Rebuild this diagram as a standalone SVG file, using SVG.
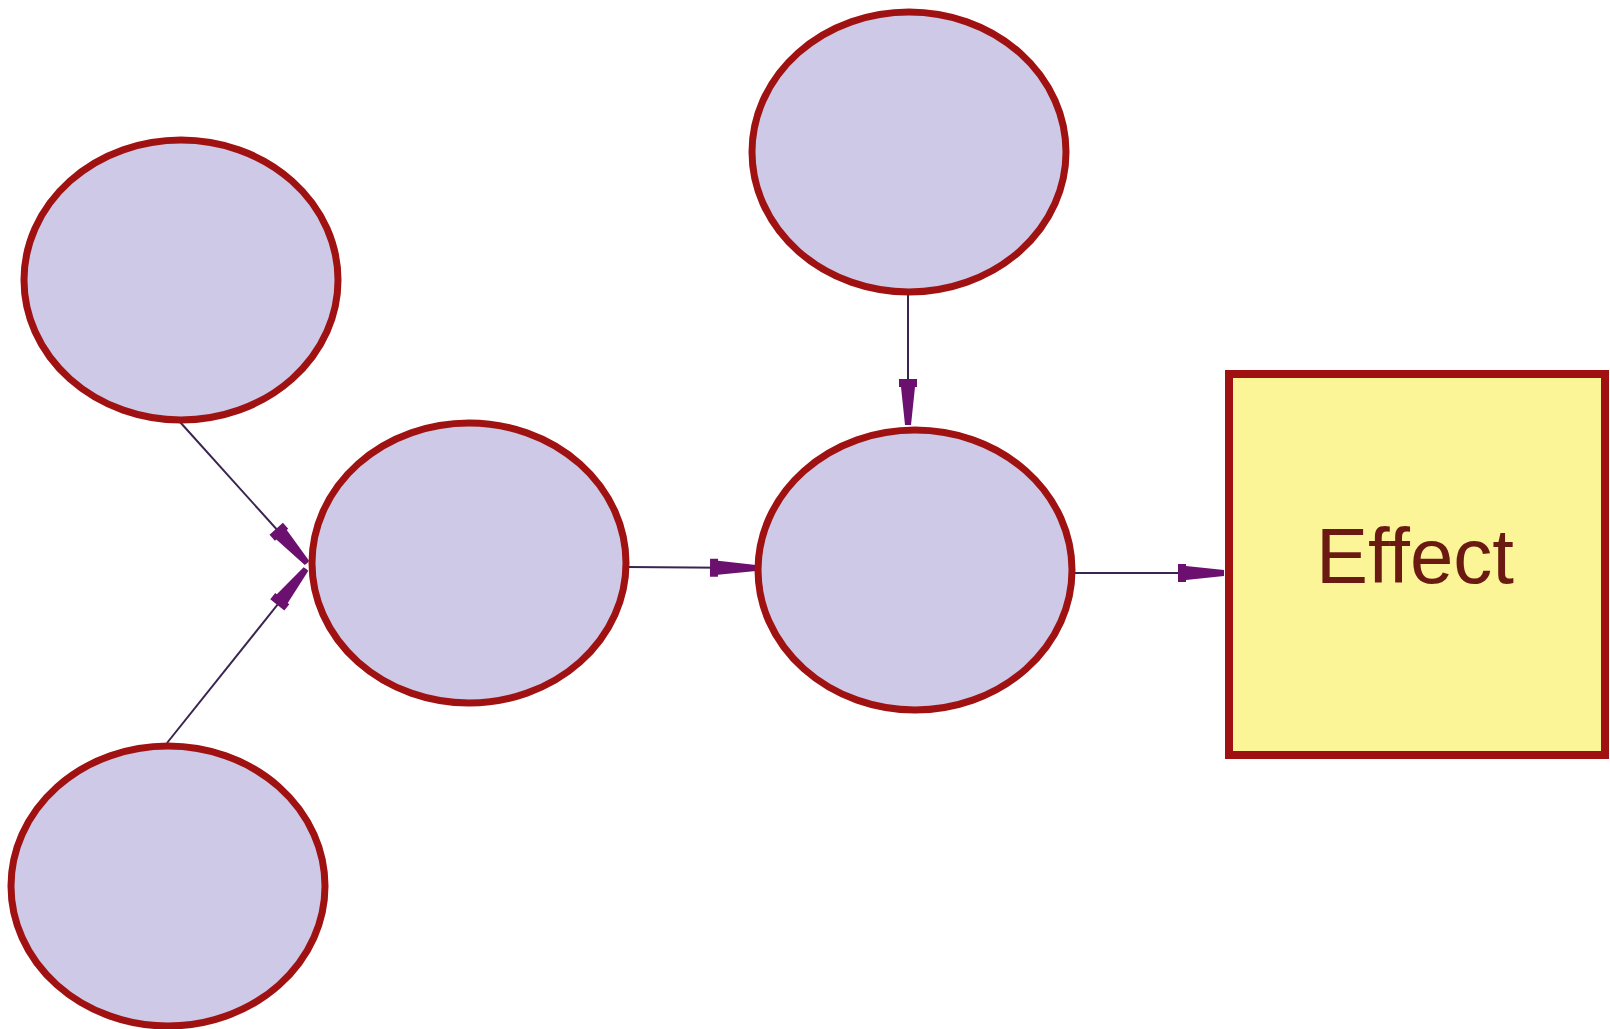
<svg xmlns="http://www.w3.org/2000/svg" width="1610" height="1029" viewBox="0 0 1610 1029">
<style>
.node ellipse{fill:#cdc9e6;stroke:#a01212;stroke-width:7}
.box{fill:#fbf597;stroke:#a01212;stroke-width:8}
.edge{stroke:#3a2450;stroke-width:2;fill:none;marker-end:url(#arr)}
.lbl{font-family:"Liberation Sans",Arial,sans-serif;font-size:78px;fill:#6b1a12;text-anchor:middle}
</style>
<defs>
<marker id="arr" markerUnits="userSpaceOnUse" markerWidth="50" markerHeight="24" viewBox="-46 -12 48 24" refX="0" refY="0" orient="auto" overflow="visible">
<path d="M-46,-9 L-38,-9 L-38,-7 L0,-3 L0,3 L-38,7 L-38,9 L-46,9 Z" fill="#6c1070"/>
</marker>
</defs>
<rect width="1610" height="1029" fill="#ffffff"/>
<g id="connectors">
<line class="edge" x1="180" y1="422" x2="307" y2="563"/>
<line class="edge" x1="167" y1="743" x2="306" y2="569"/>
<line class="edge" x1="627" y1="567" x2="756" y2="568"/>
<line class="edge" x1="908" y1="295" x2="908" y2="425"/>
<line class="edge" x1="1074" y1="573" x2="1224" y2="573"/>
</g>
<g id="n1" class="node"><ellipse cx="181" cy="280" rx="157" ry="140"/></g>
<g id="n2" class="node"><ellipse cx="168" cy="886" rx="157" ry="140"/></g>
<g id="n3" class="node"><ellipse cx="469" cy="563" rx="157" ry="140"/></g>
<g id="n4" class="node"><ellipse cx="909" cy="152" rx="157" ry="140"/></g>
<g id="n5" class="node"><ellipse cx="915" cy="570" rx="157" ry="140"/></g>
<g id="effect">
<rect class="box" x="1229" y="374" width="376" height="381"/>
<text class="lbl" x="1415" y="583">Effect</text>
</g>
</svg>
